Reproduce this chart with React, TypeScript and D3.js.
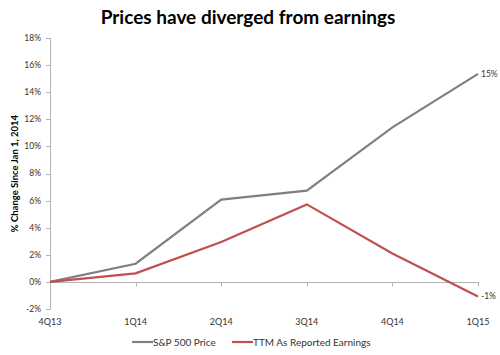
import React from "react";
import * as d3 from "d3";

const categories = ["4Q13", "1Q14", "2Q14", "3Q14", "4Q14", "1Q15"];
const spxPrice = [0, 1.34, 6.07, 6.73, 11.4, 15.35];
const ttmEarnings = [0, 0.63, 2.94, 5.72, 2.1, -1.07];
const yTicks = [-2, 0, 2, 4, 6, 8, 10, 12, 14, 16, 18];
const seriesNames = ["S&P 500 Price", "TTM As Reported Earnings"];
const endLabels = ["15%", "-1%"];

const W = 500, H = 355;
const FONT = "Lato, 'Open Sans', sans-serif";

export default function App() {
  const x = d3.scalePoint<string>().domain(categories).range([50, 478]);
  const y = d3.scaleLinear().domain([-2, 18]).range([309, 38]);
  const line = d3
    .line<number>()
    .x((_, i) => x(categories[i]) as number)
    .y((d) => y(d));
  const colors = ["#808080", "#c0504d"];
  const series = [spxPrice, ttmEarnings];
  const axisColor = "#b3b3b3";
  return (
    <svg width={W} height={H} style={{ position: "absolute", left: 0, top: 0, background: "#fff" }}>
      <text x={248} y={24} textAnchor="middle" fontFamily={FONT} fontWeight="bold" fontSize={19} fill="#000">
        Prices have diverged from earnings
      </text>
      {/* y axis */}
      <line x1={50.5} x2={50.5} y1={y(18)} y2={y(-2)} stroke={axisColor} strokeWidth={1} />
      {yTicks.map((t) => (
        <g key={t}>
          <line x1={46} x2={50.5} y1={Math.round(y(t)) + 0.5} y2={Math.round(y(t)) + 0.5} stroke={axisColor} />
          <text x={41} y={y(t)} dy="0.35em" textAnchor="end" fontFamily={FONT} fontSize={8.5} fill="#333">
            {t}%
          </text>
        </g>
      ))}
      <text
        transform={`translate(18,${y(8)}) rotate(-90)`}
        textAnchor="middle"
        fontFamily={FONT}
        fontWeight="bold"
        fontSize={9.5}
        fill="#000"
      >
        % Change Since Jan 1, 2014
      </text>
      {/* x axis */}
      <line x1={50} x2={478} y1={Math.round(y(0)) + 0.5} y2={Math.round(y(0)) + 0.5} stroke={axisColor} />
      {categories.map((c, i) => (
        <g key={c}>
          {i > 0 && (
            <line
              x1={Math.round(x(c) as number) + 0.5}
              x2={Math.round(x(c) as number) + 0.5}
              y1={Math.round(y(0))}
              y2={Math.round(y(0)) + 4.5}
              stroke={axisColor}
            />
          )}
          <text x={x(c)} y={322} dy="0.35em" textAnchor="middle" fontFamily={FONT} fontSize={9} fill="#333">
            {c}
          </text>
        </g>
      ))}
      {series.map((s, i) => (
        <path key={i} d={line(s) || ""} fill="none" stroke={colors[i]} strokeWidth={2.2} strokeLinejoin="miter" />
      ))}
      {series.map((s, i) => (
        <text
          key={"l" + i}
          x={(x(categories[categories.length - 1]) as number) + 3}
          y={y(s[s.length - 1])}
          dy="0.35em"
          fontFamily={FONT}
          fontSize={8.5}
          fill="#333"
        >
          {endLabels[i]}
        </text>
      ))}
      {/* legend */}
      <line x1={132} x2={153} y1={342} y2={342} stroke={colors[0]} strokeWidth={2.2} />
      <text x={153} y={342} dy="0.35em" fontFamily={FONT} fontSize={10} fill="#333">
        {seriesNames[0]}
      </text>
      <line x1={232} x2={253} y1={342} y2={342} stroke={colors[1]} strokeWidth={2.2} />
      <text x={253} y={342} dy="0.35em" fontFamily={FONT} fontSize={10} fill="#333">
        {seriesNames[1]}
      </text>
    </svg>
  );
}
